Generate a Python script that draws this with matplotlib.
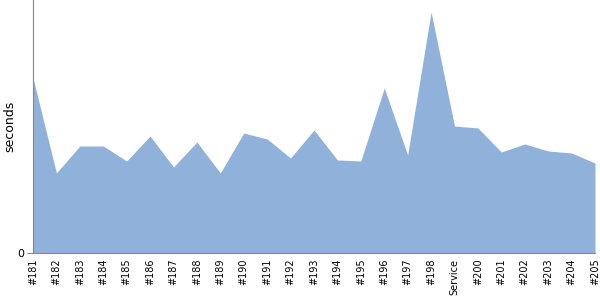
import matplotlib
matplotlib.use("Agg")
import matplotlib.pyplot as plt

builds = ["#181", "#182", "#183", "#184", "#185", "#186", "#187", "#188", "#189",
          "#190", "#191", "#192", "#193", "#194", "#195", "#196", "#197", "#198",
          "Service", "#200", "#201", "#202", "#203", "#204", "#205"]
seconds = [175, 80, 107, 107, 92, 117, 86, 111, 80, 120, 114, 95, 123, 93, 92,
           165, 98, 241, 127, 125, 101, 109, 102, 100, 90]

fig = plt.figure(figsize=(6, 3), dpi=100)
ax = fig.add_axes([33 / 600, 47 / 300, 562 / 600, 253 / 300])
x = range(len(builds))
ax.fill_between(x, seconds, 0, color="#8fb1da", linewidth=0)
ax.set_xlim(0, len(builds) - 1)
ax.set_ylim(0, 253)

ax.set_xticks(list(x))
ax.set_xticklabels(builds, rotation=90, fontsize=7)
ax.tick_params(axis="x", length=0, pad=4)
ax.set_yticks([0])
ax.tick_params(axis="y", length=4, labelsize=8, color="#888888", pad=2)
ax.set_ylabel("seconds", fontsize=9, rotation=90, ha="center", va="center")
ax.yaxis.set_label_coords(-0.041, 0.5)

for side in ("top", "right"):
    ax.spines[side].set_visible(False)
for side in ("left", "bottom"):
    ax.spines[side].set_color("#888888")

fig.savefig("out.png", dpi=100)
